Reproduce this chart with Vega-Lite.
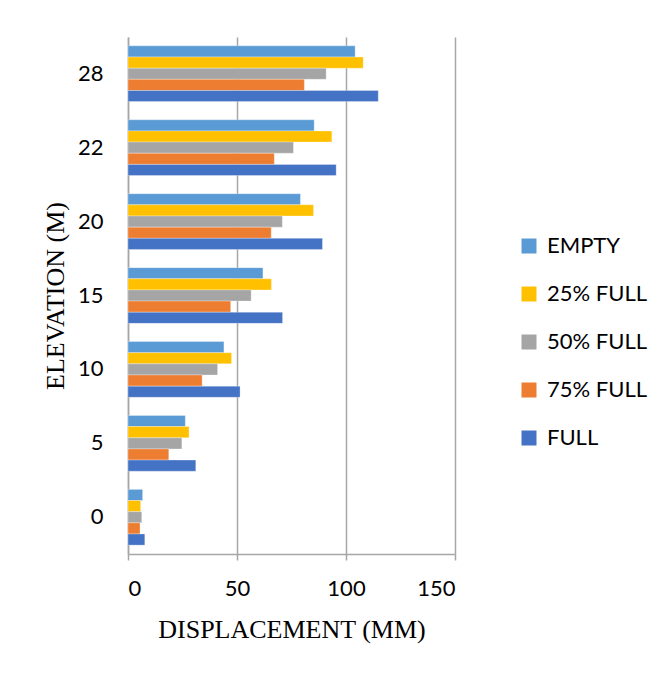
{
  "$schema": "https://vega.github.io/schema/vega-lite/v6.json",
  "width": 327,
  "height": 517,
  "autosize": "none",
  "padding": {"left": 128, "top": 37, "right": 210, "bottom": 119},
  "background": "white",
  "data": {
    "values": [
      {"elev": "28", "series": "EMPTY", "value": 104.2},
      {"elev": "28", "series": "25% FULL", "value": 107.9},
      {"elev": "28", "series": "50% FULL", "value": 90.9},
      {"elev": "28", "series": "75% FULL", "value": 80.9},
      {"elev": "28", "series": "FULL", "value": 114.8},
      {"elev": "22", "series": "EMPTY", "value": 85.4},
      {"elev": "22", "series": "25% FULL", "value": 93.5},
      {"elev": "22", "series": "50% FULL", "value": 75.9},
      {"elev": "22", "series": "75% FULL", "value": 67.1},
      {"elev": "22", "series": "FULL", "value": 95.5},
      {"elev": "20", "series": "EMPTY", "value": 79.1},
      {"elev": "20", "series": "25% FULL", "value": 85.1},
      {"elev": "20", "series": "50% FULL", "value": 70.8},
      {"elev": "20", "series": "75% FULL", "value": 65.7},
      {"elev": "20", "series": "FULL", "value": 89.2},
      {"elev": "15", "series": "EMPTY", "value": 61.9},
      {"elev": "15", "series": "25% FULL", "value": 65.8},
      {"elev": "15", "series": "50% FULL", "value": 56.5},
      {"elev": "15", "series": "75% FULL", "value": 47.1},
      {"elev": "15", "series": "FULL", "value": 70.9},
      {"elev": "10", "series": "EMPTY", "value": 44.0},
      {"elev": "10", "series": "25% FULL", "value": 47.5},
      {"elev": "10", "series": "50% FULL", "value": 41.1},
      {"elev": "10", "series": "75% FULL", "value": 34.0},
      {"elev": "10", "series": "FULL", "value": 51.4},
      {"elev": "5", "series": "EMPTY", "value": 26.3},
      {"elev": "5", "series": "25% FULL", "value": 28.0},
      {"elev": "5", "series": "50% FULL", "value": 24.7},
      {"elev": "5", "series": "75% FULL", "value": 18.7},
      {"elev": "5", "series": "FULL", "value": 31.1},
      {"elev": "0", "series": "EMPTY", "value": 6.7},
      {"elev": "0", "series": "25% FULL", "value": 5.8},
      {"elev": "0", "series": "50% FULL", "value": 6.3},
      {"elev": "0", "series": "75% FULL", "value": 5.5},
      {"elev": "0", "series": "FULL", "value": 7.7}
    ]
  },
  "mark": {"type": "bar", "stroke": "white", "strokeOpacity": 0.5, "strokeWidth": 0.6},
  "encoding": {
    "y": {
      "field": "elev",
      "type": "nominal",
      "sort": ["28", "22", "20", "15", "10", "5", "0"],
      "scale": {"paddingInner": 0.246, "paddingOuter": 0.12},
      "axis": {
        "title": "ELEVATION (M)",
        "titleFont": "Liberation Serif",
        "titleFontSize": 26,
        "titleFontWeight": "normal",
        "titleColor": "black",
        "titlePadding": 9,
        "labelFont": "Lato",
        "labelFontSize": 22,
        "labelColor": "black",
        "labelPadding": 25,
        "ticks": false,
        "domain": true,
        "domainColor": "#A6A6A6",
        "domainWidth": 1.5,
        "grid": false
      }
    },
    "yOffset": {
      "field": "series",
      "type": "nominal",
      "sort": ["EMPTY", "25% FULL", "50% FULL", "75% FULL", "FULL"],
      "scale": {"paddingInner": 0, "paddingOuter": 0}
    },
    "x": {
      "field": "value",
      "type": "quantitative",
      "scale": {"domain": [0, 150], "nice": false},
      "axis": {
        "values": [0, 50, 100, 150],
        "title": "DISPLACEMENT (MM)",
        "titleFont": "Liberation Serif",
        "titleFontSize": 26,
        "titleFontWeight": "normal",
        "titleColor": "black",
        "titlePadding": 17,
        "labelFont": "Lato",
        "labelFontSize": 22,
        "labelColor": "black",
        "labelPadding": 18,
        "tickSize": 6,
        "tickColor": "#A6A6A6",
        "tickWidth": 1.5,
        "domainColor": "#A6A6A6",
        "domainWidth": 1.5,
        "grid": true,
        "gridColor": "#A6A6A6",
        "gridWidth": 1.5
      }
    },
    "color": {
      "field": "series",
      "type": "nominal",
      "sort": ["EMPTY", "25% FULL", "50% FULL", "75% FULL", "FULL"],
      "scale": {
        "domain": ["EMPTY", "25% FULL", "50% FULL", "75% FULL", "FULL"],
        "range": ["#5B9BD5", "#FFC000", "#A5A5A5", "#ED7D31", "#4472C4"]
      },
      "legend": {
        "title": null,
        "orient": "none",
        "legendX": 390,
        "legendY": 198,
        "symbolType": "square",
        "symbolSize": 225,
        "symbolStrokeWidth": 0,
        "labelFont": "Lato",
        "labelFontSize": 22,
        "labelColor": "black",
        "labelOffset": 7,
        "rowPadding": 26
      }
    }
  },
  "config": {"view": {"stroke": null}}
}
